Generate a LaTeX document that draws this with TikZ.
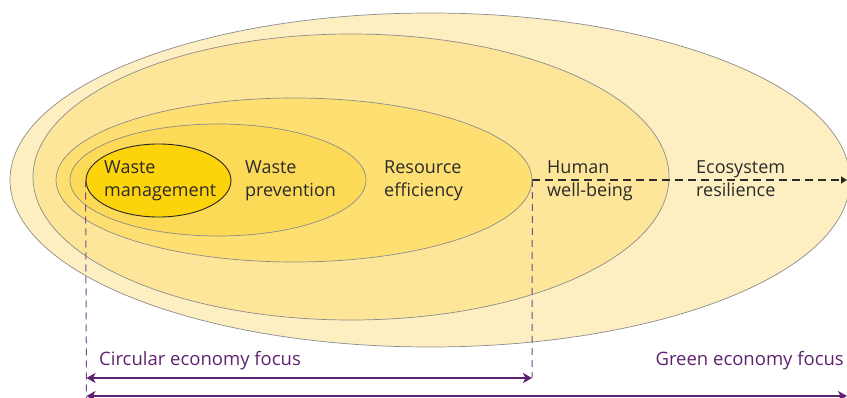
\documentclass[tikz,border=0pt]{standalone}
\usepackage{fontspec}
\setmainfont{Open Sans}
\usetikzlibrary{shapes.geometric,arrows.meta}
\definecolor{cA}{HTML}{FDEFC1}
\definecolor{cB}{HTML}{FDE699}
\definecolor{cC}{HTML}{FEDF72}
\definecolor{cD}{HTML}{FDD958}
\definecolor{cE}{HTML}{FDD30C}
\definecolor{edge}{HTML}{8C8C8C}
\definecolor{txt}{HTML}{2B2B2B}
\definecolor{purp}{HTML}{5E2370}
\definecolor{purpl}{HTML}{7A4A8C}
\tikzset{
  ring/.style={ellipse, inner sep=0pt, draw=edge, line width=0.7pt},
  lbl/.style={anchor=base west, inner sep=0pt, align=left, text=txt,
    font=\fontsize{18}{22.5}\selectfont},
  focus/.style={anchor=base west, inner sep=0pt, text=purp,
    font=\fontsize{18.5}{20}\selectfont},
  span/.style={draw=purp, line width=2pt, {Stealth[length=9pt,width=10pt,inset=2.5pt]}-{Stealth[length=9pt,width=10pt,inset=2.5pt]}},
  guide/.style={draw=purpl, line width=1pt, dash pattern=on 7pt off 5pt},
  flow/.style={draw=txt, line width=2.8pt, dash pattern=on 8pt off 5pt, -{Triangle[length=6pt,width=7pt]}}
}
\begin{document}
\begin{tikzpicture}[x=1pt,y=-1pt]
\useasboundingbox (0,0) rectangle (847,398);
\clip (0,0) rectangle (847,398);
\node[ring, fill=cA, minimum width=840pt, minimum height=334pt] (eco) at (430,180) {};
\node[ring, fill=cB, minimum width=636pt, minimum height=286pt] (hum) at (351,177) {};
\node[ring, fill=cC, minimum width=476pt, minimum height=164pt] (res) at (294,180) {};
\node[ring, fill=cD, minimum width=296pt, minimum height=112pt] (prev) at (218,180) {};
\node[ring, fill=cE, draw=black!85, line width=0.9pt, minimum width=145pt, minimum height=73pt] (wm) at (158.5,180.5) {};
\node[lbl] (twm) at (104,196.5) {Waste\\management};
\node[lbl] (tprev) at (245,196.5) {Waste\\prevention};
\node[lbl] (tres) at (384,196.5) {Resource\\efficiency};
\node[lbl] (thum) at (547,196.5) {Human\\well-being};
\node[lbl] (teco) at (696,196.5) {Ecosystem\\resilience};
\coordinate (end) at (847,180);
\draw[flow] (res.east) -- (end);
\coordinate (gl) at (86.5,398);
\coordinate (cl) at (86.5,378);
\coordinate (cr) at (532,378);
\coordinate (gr) at (847,396);
\coordinate (gs) at (86.5,396);
\draw[guide] (wm.west) -- (gl);
\draw[guide] (res.east) -- (cr);
\draw[span] (cl) -- (cr);
\draw[span] (gs) -- (gr);
\node[focus] (tcirc) at (99,366) {Circular economy focus};
\node[focus, anchor=base east] (tgreen) at (844,366) {Green economy focus};
\end{tikzpicture}
\end{document}
